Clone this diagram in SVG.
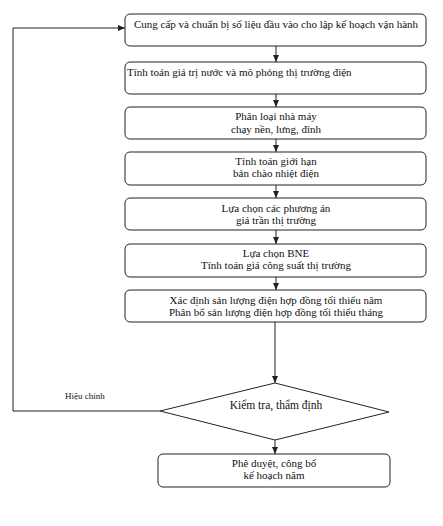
<svg xmlns="http://www.w3.org/2000/svg" width="443" height="526" viewBox="0 0 443 526">
<style>
.box{fill:#fff;stroke:#222;stroke-width:1}
.t{font-family:"Liberation Serif",serif;font-size:11px;fill:#111}
.c{text-anchor:middle}
.ln{fill:none;stroke:#222;stroke-width:1}
</style>
<defs>
<marker id="ah" markerWidth="8" markerHeight="8" refX="7" refY="4" orient="auto" markerUnits="userSpaceOnUse">
<path d="M0,1 L7,4 L0,7 Z" fill="#222"/>
</marker>
</defs>
<rect width="443" height="526" fill="#fff"/>
<g id="connectors">
<line class="ln" x1="276" y1="46" x2="276" y2="62" marker-end="url(#ah)"/>
<line class="ln" x1="276" y1="94" x2="276" y2="107" marker-end="url(#ah)"/>
<line class="ln" x1="276" y1="139" x2="276" y2="152" marker-end="url(#ah)"/>
<line class="ln" x1="276" y1="185" x2="276" y2="198" marker-end="url(#ah)"/>
<line class="ln" x1="276" y1="230" x2="276" y2="244" marker-end="url(#ah)"/>
<line class="ln" x1="276" y1="277" x2="276" y2="290" marker-end="url(#ah)"/>
<line class="ln" x1="275" y1="322" x2="275" y2="383" marker-end="url(#ah)"/>
<line class="ln" x1="275" y1="440" x2="275" y2="454" marker-end="url(#ah)"/>
<polyline class="ln" points="160,411 13,411 13,28 125,28" marker-end="url(#ah)"/>
<text class="t" x="65" y="399" style="font-size:9px">Hiệu chỉnh</text>
</g>
<g id="n1"><rect class="box" x="125" y="14" width="301" height="32" rx="5"/>
<text class="t c" x="276" y="28">Cung cấp và chuẩn bị số liệu đầu vào cho lập kế hoạch vận hành</text></g>
<g id="n2"><rect class="box" x="125" y="62" width="301" height="32" rx="5"/>
<text class="t" x="127" y="76">Tính toán giá trị nước và mô phỏng thị trường điện</text></g>
<g id="n3"><rect class="box" x="125" y="107" width="301" height="32" rx="5"/>
<text class="t c" x="276" y="120">Phân loại nhà máy</text>
<text class="t c" x="276" y="133">chạy nền, lưng, đỉnh</text></g>
<g id="n4"><rect class="box" x="125" y="152" width="301" height="33" rx="5"/>
<text class="t c" x="276" y="165">Tính toán giới hạn</text>
<text class="t c" x="276" y="177">bản chào nhiệt điện</text></g>
<g id="n5"><rect class="box" x="125" y="198" width="301" height="32" rx="5"/>
<text class="t c" x="276" y="212">Lựa chọn các phương án</text>
<text class="t c" x="276" y="224">giá trần thị trường</text></g>
<g id="n6"><rect class="box" x="125" y="244" width="301" height="33" rx="5"/>
<text class="t c" x="276" y="257">Lựa chọn BNE</text>
<text class="t c" x="276" y="269">Tính toán giá công suất thị trường</text></g>
<g id="n7"><rect class="box" x="125" y="290" width="301" height="32" rx="5"/>
<text class="t c" x="276" y="304">Xác định sản lượng điện hợp đồng tối thiểu năm</text>
<text class="t c" x="276" y="316">Phân bổ sản lượng điện hợp đồng tối thiểu tháng</text></g>
<g id="n8"><polygon class="box" points="275,383 389,412 275,440 160,411"/>
<text class="t c" x="276" y="409" style="font-size:11.5px">Kiểm tra, thẩm định</text></g>
<g id="n9"><rect class="box" x="158" y="454" width="232" height="33" rx="5"/>
<text class="t c" x="274" y="467">Phê duyệt, công bố</text>
<text class="t c" x="274" y="479">kế hoạch năm</text></g>
</svg>
